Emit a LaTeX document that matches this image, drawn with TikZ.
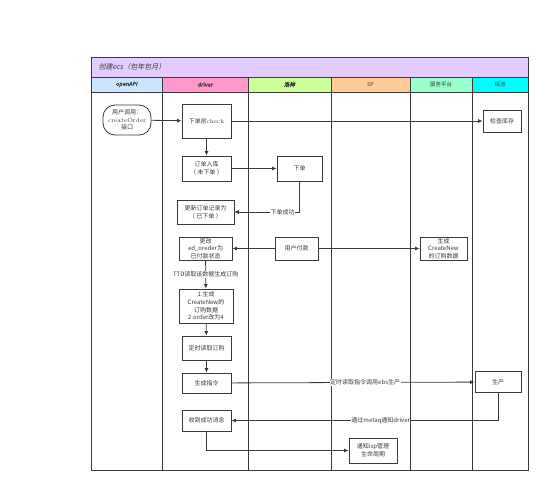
\documentclass[tikz,border=0pt]{standalone}
\usepackage{fontspec}
\newfontfamily\cjk{Noto Sans CJK SC}
\newfontfamily\cjkit[FakeSlant=0.2]{Noto Sans CJK SC}
\newfontfamily\cjkbi[FakeSlant=0.2,FakeBold=1.5]{Noto Sans CJK SC}
\usetikzlibrary{arrows.meta}
\definecolor{ttlbg}{HTML}{E5CCFF}
\definecolor{apibg}{HTML}{CCE5FF}
\definecolor{drvbg}{HTML}{FF99CC}
\definecolor{lsbg}{HTML}{CCFF99}
\definecolor{spbg}{HTML}{FFCC99}
\definecolor{fwbg}{HTML}{99FFCC}
\definecolor{ycbg}{HTML}{00FFFF}
\definecolor{ink}{HTML}{3A3A3A}
\tikzset{
  proc/.style={draw=ink, line width=0.8pt, fill=white, rectangle, align=center,
    inner sep=1pt, text=ink, font=\cjk\fontsize{6}{7.6}\selectfont},
  flow/.style={draw=ink, line width=0.8pt, -{Latex[length=4.5pt,width=4pt]}},
  lbl/.style={fill=white, inner sep=0.5pt, text=ink, font=\cjk\fontsize{6}{7}\selectfont},
  lanehead/.style={draw=ink, line width=0.8pt, text=ink, font=\cjk\fontsize{5.5}{6}\selectfont}
}
\begin{document}
\begin{tikzpicture}[x=1pt,y=-1pt]
\useasboundingbox (0,0) rectangle (559,500);
% pool, title band and lane headers
\fill[ttlbg] (91,57) rectangle (528,77);
\node[anchor=west, text=ink, font=\cjkit\fontsize{7}{8}\selectfont] (title) at (95,67) {创建ecs（包年包月）};
\draw[lanehead, fill=apibg] (91,77) rectangle node[font=\cjkbi\fontsize{5.5}{6}\selectfont] (hapi) {openAPI} (162,92);
\draw[lanehead, fill=drvbg] (162,77) rectangle node[font=\cjkbi\fontsize{5.5}{6}\selectfont] (hdrv) {driver} (248,92);
\draw[lanehead, fill=lsbg] (248,77) rectangle node[font=\cjkbi\fontsize{5.5}{6}\selectfont] (hls) {洛神} (331,92);
\draw[lanehead, fill=spbg] (331,77) rectangle node (hsp) {SP} (410,92);
\draw[lanehead, fill=fwbg] (410,77) rectangle node (hfw) {服务平台} (472,92);
\draw[lanehead, fill=ycbg] (472,77) rectangle node (hyc) {瑶池} (528,92);
\foreach \lx in {162,248,331,410,472}
  \draw[draw=ink, line width=0.8pt] (\lx,92) -- (\lx,470);
\draw[draw=ink, line width=0.8pt] (91,57) rectangle (528,470);
% steps
\node[proc, rounded corners=12pt, minimum width=48pt, minimum height=30pt] (user) at (127,120) {用户调用：\\{\rmfamily createOrder}\\接口};
\node[proc, minimum width=49pt, minimum height=34pt] (chk) at (206.5,121) {下单前{\rmfamily check}};
\node[proc, minimum width=38pt, minimum height=22pt] (stock) at (502,121) {检查库存};
\node[proc, minimum width=49pt, minimum height=25pt] (rk) at (206.5,168.5) {订单入库\\（ 未下单 ）};
\node[proc, minimum width=45pt, minimum height=25pt] (xd) at (299.5,168.5) {下单};
\node[proc, minimum width=57pt, minimum height=24pt] (gx) at (205.5,212) {更新订单记录为\\（ 已下单 ）};
\node[proc, minimum width=53pt, minimum height=23pt] (gg) at (205.5,248.5) {更改\\ed\_oreder为\\已付款状态};
\node[proc, minimum width=43pt, minimum height=23pt] (pay) at (296.5,248.5) {用户付款};
\node[proc, minimum width=47pt, minimum height=23pt] (sc) at (443.5,248.5) {生成\\CreateNew\\的订购数据};
\node[proc, minimum width=54pt, minimum height=34pt] (gen) at (206,306) {1.生成\\CreateNew的\\订购数据\\2.order改为4};
\node[proc, minimum width=49pt, minimum height=24pt] (ds) at (206.5,348) {定时读取订购};
\node[proc, minimum width=49pt, minimum height=20pt] (zl) at (206.5,383) {生成指令};
\node[proc, minimum width=46pt, minimum height=21pt] (prod) at (498,382) {生产};
\node[proc, minimum width=49pt, minimum height=21pt] (sd) at (206.5,420.5) {收到成功消息};
\node[proc, minimum width=48pt, minimum height=25pt] (tz) at (373,450.5) {通知isp管理\\生命周期};
% connectors
\draw[flow] (user) -- (chk);
\draw[flow] (chk) -- (stock);
\draw[flow] (chk) -- (rk);
\draw[flow] (rk) -- (xd);
\draw[flow] (xd) |- node[lbl, pos=0.63] {下单成功} (gx);
\draw[flow] (pay) -- (gg);
\draw[flow] (pay) -- (sc);
\draw[flow] (gg) -- node[lbl] {TTD读取该数据生成订购} (gen);
\draw[flow] (gen) -- (ds);
\draw[flow] (ds) -- (zl);
\draw[flow] (zl) -- node[lbl, pos=0.55] {定时读取指令调用ebs生产} (prod);
\draw[flow] (prod) |- node[lbl, pos=0.72] {通过metaq通知driver} (sd);
\draw[flow] (sd) |- (tz);
\end{tikzpicture}
\end{document}
